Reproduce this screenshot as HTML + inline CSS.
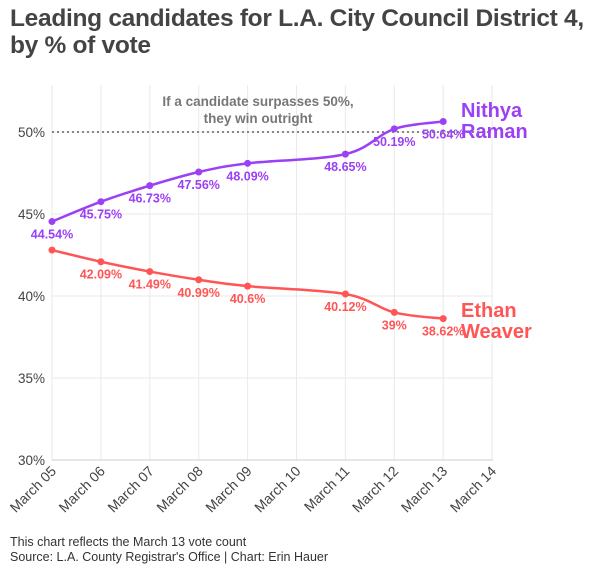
<!DOCTYPE html>
<html><head><meta charset="utf-8"><style>
body{margin:0;background:#fff;font-family:"Liberation Sans",sans-serif;}
.t{position:absolute;left:10px;top:5px;font-size:24.5px;font-weight:bold;color:#444;line-height:27px;letter-spacing:-0.3px}
.f{position:absolute;left:10px;top:535px;font-size:12.5px;color:#333;line-height:15px}
</style></head><body>
<div class="t">Leading candidates for L.A. City Council District 4,<br>by % of vote</div>
<svg width="600" height="575" style="position:absolute;left:0;top:0" font-family="Liberation Sans, sans-serif">
<g stroke="#eaeaea" stroke-width="1" id="grid"></g>
<line x1="52" y1="460" x2="493" y2="460" stroke="#ccc"/>
<g font-size="13.5" fill="#444" text-anchor="end">
<text x="45" y="137">50%</text><text x="45" y="219">45%</text><text x="45" y="301">40%</text><text x="45" y="383">35%</text><text x="45" y="465">30%</text>
</g>
<g id="xl" font-size="14" fill="#444" text-anchor="end"></g>
<line x1="52" y1="132" x2="490" y2="132" stroke="#888" stroke-width="2" stroke-dasharray="2,3"/>
<g font-size="13.5" font-weight="bold" fill="#777" text-anchor="middle">
<text x="258" y="106">If a candidate surpasses 50%,</text><text x="258" y="123">they win outright</text></g>
<path id="pn" fill="none" stroke="#9b40f5" stroke-width="2.5"/>
<path id="pe" fill="none" stroke="#ff5555" stroke-width="2.5"/>
<g id="pts"></g>
<g font-size="20" font-weight="bold">
<text x="461" y="117" fill="#9b40f5">Nithya</text><text x="461" y="138" fill="#9b40f5">Raman</text>
<text x="461" y="317" fill="#ff5555">Ethan</text><text x="461" y="338" fill="#ff5555">Weaver</text></g>
</svg>
<div class="f">This chart reflects the March 13 vote count<br>Source: L.A. County Registrar's Office | Chart: Erin Hauer</div>
<script>
var ns="http://www.w3.org/2000/svg";
function el(p,t,a,txt){var e=document.createElementNS(ns,t);for(var k in a)e.setAttribute(k,a[k]);if(txt)e.textContent=txt;document.getElementById(p).appendChild(e);}
var X=function(i){return 52+i*48.9};var Y=function(v){return 132+(50-v)*16.4};
[50,45,40,35].forEach(function(v){el("grid","line",{x1:52,x2:493,y1:Y(v),y2:Y(v)})});
for(var i=0;i<10;i++){el("grid","line",{x1:X(i),x2:X(i),y1:85,y2:460});
var d=("0"+(5+i)).slice(-2);el("xl","text",{transform:"translate("+(X(i)+5)+",472) rotate(-45)"},"March "+d);}
var idx=[0,1,2,3,4,6,7,8];
var N=[44.54,45.75,46.73,47.56,48.09,48.65,50.19,50.64];
var E=[42.8,42.09,41.49,40.99,40.6,40.12,39,38.62];
function path(vals){var p=vals.map(function(v,k){return[X(idx[k]),Y(v)]});var s="M"+p[0];
for(var k=0;k<p.length-1;k++){var a=p[k-1]||p[k],b=p[k],c=p[k+1],d=p[k+2]||c;
s+="C"+(b[0]+(c[0]-a[0])/6)+","+(b[1]+(c[1]-a[1])/6)+" "+(c[0]-(d[0]-b[0])/6)+","+(c[1]-(d[1]-b[1])/6)+" "+c;}return s;}
document.getElementById("pn").setAttribute("d",path(N));
document.getElementById("pe").setAttribute("d",path(E));
function pts(vals,col,skip){vals.forEach(function(v,k){var x=X(idx[k]),y=Y(v);
el("pts","circle",{cx:x,cy:y,r:3.5,fill:col});
if(k!==skip)el("pts","text",{x:x,y:y+17,fill:col,"font-size":12.5,"font-weight":"bold","text-anchor":"middle"},v+"%");});}
pts(N,"#9b40f5",-1);pts(E,"#ff5555",0);
</script>
</body></html>
